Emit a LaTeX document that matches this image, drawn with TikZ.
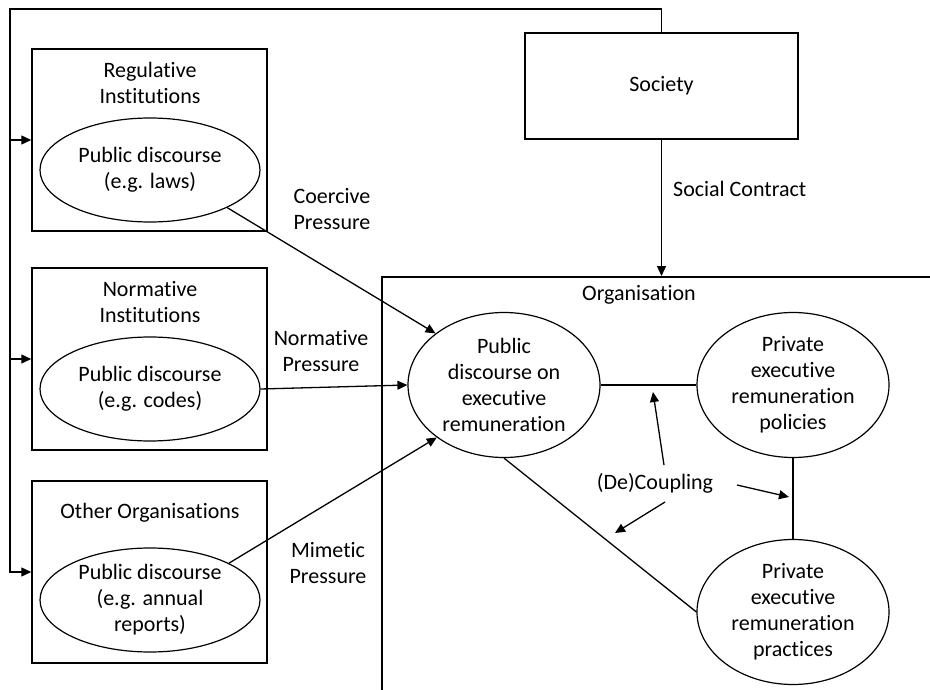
\documentclass[tikz,border=0pt]{standalone}
\usepackage{fontspec}
\setmainfont{Carlito}[Ligatures={NoCommon}]
\usetikzlibrary{arrows.meta,positioning,shapes.geometric}
\tikzset{
  box/.style   ={rectangle, draw=black, line width=1.5pt, inner sep=0pt},
  inst/.style  ={box, minimum width=235pt, minimum height=182pt},
  disc/.style  ={ellipse, draw=black, line width=1.2pt, align=center, inner sep=0pt},
  small/.style ={disc, minimum width=220pt, minimum height=104pt},
  big/.style   ={disc, minimum width=192pt, minimum height=145pt},
  ttl/.style   ={align=center, inner sep=1pt},
  flow/.style  ={-{Triangle[length=10pt,width=9pt]}, line width=1.3pt},
  link/.style  ={line width=1.3pt},
}
\begin{document}
\begin{tikzpicture}[x=1pt,y=-1pt,font=\fontsize{22}{26}\selectfont]
    \clip (0,0) rectangle (930,690);

    % institutions
    \node[inst] (reg)  at (149.5,140) {};
    \node[inst] (norm) at (149.5,359) {};
    \node[inst] (oth)  at (149.5,572) {};
    \node[ttl] (regT)  at (150,83)  {Regulative\\Institutions};
    \node[ttl] (normT) at (150,302) {Normative\\Institutions};
    \node[ttl] (othT)  at (150,513) {Other Organisations};
    \node[small] (regE)  at (150,170) {Public discourse\\(e.g. laws)};
    \node[small] (normE) at (150,389) {Public discourse\\(e.g. codes)};
    \node[small] (othE)  at (150,600) {Public discourse\\(e.g. annual\\reports)};

    % society and organisation
    \node[box, minimum width=273pt, minimum height=106pt] (soc) at (661.5,86) {Society};
    \node[box, anchor=north west, minimum width=600pt, minimum height=450pt] (org) at (381,276) {};
    \node[ttl] (orgT) at (639,295) {Organisation};
    \node[big] (pub)  at (504,385) {Public\\discourse on\\executive\\remuneration};
    \node[big] (pol)  at (793,385) {Private\\executive\\remuneration\\policies};
    \node[big] (prac) at (793,612) {Private\\executive\\remuneration\\practices};

    % feedback from society
    \coordinate (corner) at (10,9);
    \draw[flow] (soc.north) |- (corner) |- (oth.west);
    \draw[flow] (corner |- reg.west) -- (reg.west);
    \draw[flow] (corner |- norm.west) -- (norm.west);
    \draw[flow] (soc.south) -- (soc.south |- org.north)
        node[pos=0.36, right=10pt, ttl] {Social Contract};

    % pressures
    \draw[flow] (regE.-26) -- (pub.143);
    \node[ttl] at (332,209) {Coercive\\Pressure};
    \draw[flow] (normE.east) -- (pub.west);
    \node[ttl] at (321,351) {Normative\\Pressure};
    \draw[flow] (othE.25) -- (pub.218);
    \node[ttl] at (328,563) {Mimetic\\Pressure};

    % (de)coupling
    \draw[link] (pub.east) -- (pol.west);
    \draw[link] (pol.south) -- (prac.north);
    \draw[link] (pub.south) -- (prac.west);
    \node[ttl] (dc) at (655,483) {(De)Coupling};
    \coordinate (up) at (653,392);
    \coordinate (rt) at (789,497);
    \coordinate (lf) at (615,533);
    \draw[flow] (664,465) -- (up);
    \draw[flow] (737,485) -- (rt);
    \draw[flow] (665,502) -- (lf);
  \end{tikzpicture}
\end{document}
